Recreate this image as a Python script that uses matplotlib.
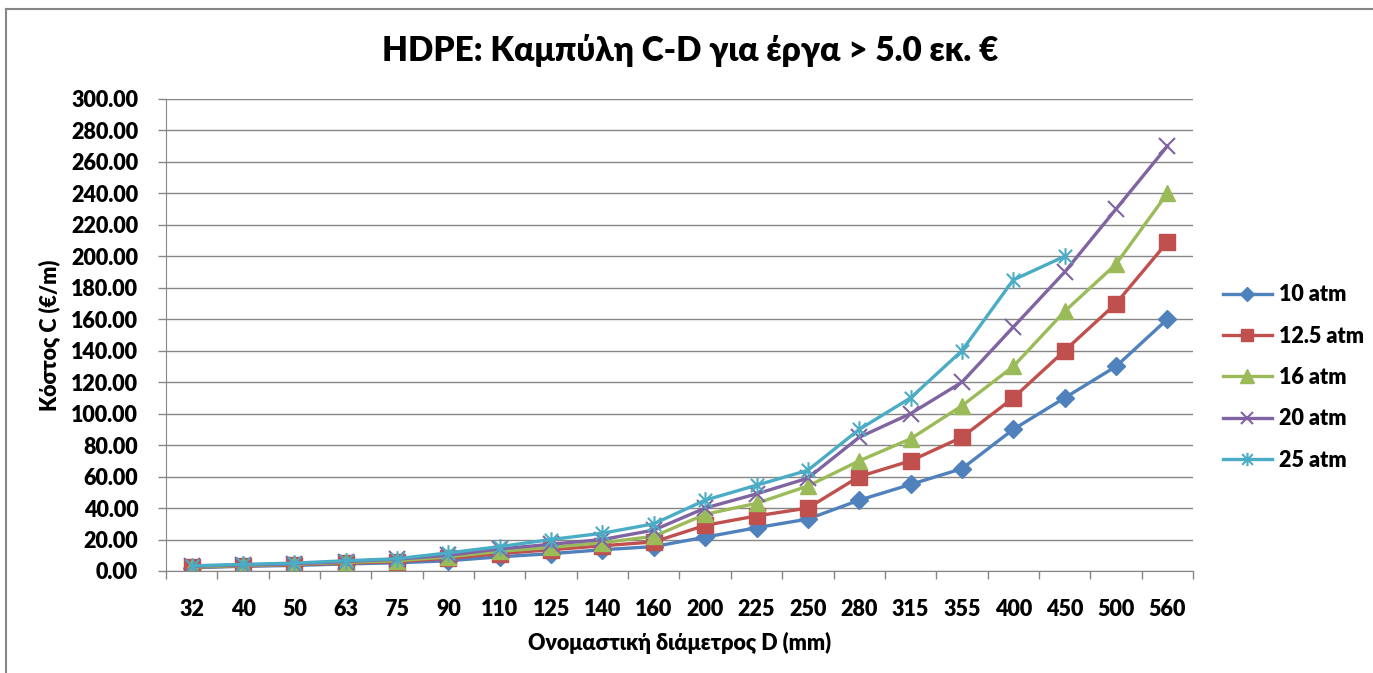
import numpy as np
import matplotlib.pyplot as plt
from matplotlib.path import Path
from matplotlib.ticker import FormatStrFormatter

plt.rcParams['font.family'] = ['Lato', 'Noto Sans', 'DejaVu Sans']
plt.rcParams['font.weight'] = 'heavy'

# Ονομαστικές διάμετροι (mm)
diametroi = ['32', '40', '50', '63', '75', '90', '110', '125', '140', '160',
             '200', '225', '250', '280', '315', '355', '400', '450', '500', '560']

# Κόστος ανά κλάση πίεσης (€/m)
c_10 = [2, 3, 3.5, 4.5, 5.2, 6.5, 9, 11, 13.5, 15.5,
        21.5, 27.5, 33, 45, 55, 65, 90, 110, 130, 160]
c_125 = [2.5, 3.2, 4, 5, 6, 8, 11, 13.5, 16, 18.5,
         29, 35, 40, 60, 70, 85, 110, 140, 170, 209]
c_16 = [2.5, 3.5, 4.2, 5.5, 6.5, 9, 12.5, 15, 18, 22,
        36, 43, 54, 70, 84, 105, 130, 165, 195, 240]
c_20 = [3, 3.8, 4.5, 6, 7.5, 10, 14, 17, 20, 26,
        40, 49, 59, 85, 100, 120, 155, 190, 230, 270]
c_25 = [3.3, 4.2, 5, 6.5, 7.8, 11.5, 15.5, 20, 24, 30,
        45, 54.5, 64, 90, 110, 140, 185, 200, np.nan, np.nan]

onomata = ['10 atm', '12.5 atm', '16 atm', '20 atm', '25 atm']
xromata = ['#4F81BD', '#C0504D', '#9BBB59', '#8064A2', '#4BACC6']

# αστερίσκος τύπου Excel: Χ με κάθετη γραμμή
asteri = Path([(-1, -1), (1, 1), (-1, 1), (1, -1), (0, -1.25), (0, 1.25)],
              [Path.MOVETO, Path.LINETO, Path.MOVETO, Path.LINETO, Path.MOVETO, Path.LINETO])

markers = [
    dict(marker='D', markersize=9, mec='#4F81BD'),
    dict(marker='s', markersize=11, mec='#C0504D'),
    dict(marker='^', markersize=12, mec='#9BBB59'),
    dict(marker='x', markersize=11, mew=1.5),
    dict(marker=asteri, markersize=12, mew=1.5, mfc='none'),
]

fig = plt.figure(figsize=(13.73, 6.73), dpi=100)
ax = fig.add_axes([0.1209, 0.1516, 0.7480, 0.7013])

x = np.arange(len(diametroi))
for y, onoma, xr, mk in zip([c_10, c_125, c_16, c_20, c_25], onomata, xromata, markers):
    ax.plot(x, y, color=xr, lw=2.4, label=onoma, **mk)

ax.set_xlim(-0.5, len(diametroi) - 0.5)
ax.set_ylim(0, 300)
ax.set_yticks(np.arange(0, 301, 20))
ax.yaxis.set_major_formatter(FormatStrFormatter('%.2f'))
ax.set_xticks(x)
ax.set_xticklabels(diametroi)
ax.set_xticks(np.arange(-0.5, len(diametroi), 1), minor=True)
ax.tick_params(axis='x', which='major', length=0, pad=20, labelsize=15.5)
ax.tick_params(axis='x', which='minor', length=6, color='#868686', width=1)
ax.tick_params(axis='y', length=6, color='#868686', width=1, labelsize=15.5, pad=14)
ax.grid(axis='y', color='#868686', lw=1)
ax.set_axisbelow(True)
for s in ['top', 'right']:
    ax.spines[s].set_visible(False)
for s in ['left', 'bottom']:
    ax.spines[s].set_color('#868686')

ax.set_ylabel('Κόστος C (€/m)', fontsize=15.5, fontweight='heavy', labelpad=8)
ax.set_xlabel('Ονομαστική διάμετρος D (mm)', fontsize=15.5, fontweight='heavy', labelpad=9)
fig.text(0.503, 0.925, 'HDPE: Καμπύλη C-D για έργα > 5.0 εκ. €',
         ha='center', va='center', fontsize=24, fontweight='heavy')

ax.legend(loc='center left', bbox_to_anchor=(1.01, 0.41), frameon=False,
          fontsize=15.5, handlelength=2.3, labelspacing=0.95, handletextpad=0.3,
          markerscale=0.8)

# περίγραμμα γραφήματος
fig.add_artist(plt.Line2D([0.0044, 0.0044], [0, 0.987], color='#868686', lw=1.5))
fig.add_artist(plt.Line2D([0.0044, 1], [0.987, 0.987], color='#868686', lw=1.5))

fig.savefig('out.png', dpi=100)
